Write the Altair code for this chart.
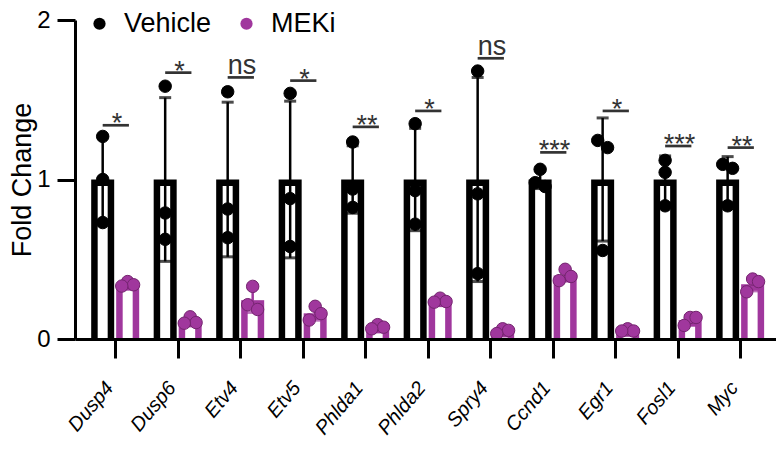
import altair as alt
import pandas as pd
import numpy as np

# ---------------- data ----------------
genes = ['Dusp4', 'Dusp6', 'Etv4', 'Etv5', 'Phlda1', 'Phlda2', 'Spry4', 'Ccnd1', 'Egr1', 'Fosl1', 'Myc']
vehicle_rep1 = [1.27, 1.585, 1.55, 1.54, 1.235, 1.35, 1.68, 1.064, 1.245, 1.12, 1.095]
vehicle_rep2 = [1.00, 0.79, 0.815, 0.88, 0.94, 0.93, 0.91, 0.98, 1.20, 1.045, 1.07]
vehicle_rep3 = [0.73, 0.625, 0.635, 0.58, 0.825, 0.72, 0.41, 0.956, 0.555, 0.835, 0.835]
meki_rep1 = [0.36, 0.139, 0.33, 0.205, 0.09, 0.256, 0.064, 0.437, 0.064, 0.135, 0.376]
meki_rep2 = [0.34, 0.103, 0.215, 0.159, 0.074, 0.235, 0.054, 0.392, 0.05, 0.135, 0.36]
meki_rep3 = [0.332, 0.099, 0.185, 0.119, 0.064, 0.231, 0.034, 0.366, 0.05, 0.085, 0.296]
sig_labels = ['*', '*', 'ns', '*', '**', '*', 'ns', '***', '*', '***', '**']
sig_heights = [1.34, 1.67, 1.64, 1.62, 1.33, 1.43, 1.76, 1.17, 1.43, 1.21, 1.20]
groups = ['Vehicle', 'MEKi']

# ---------------- styling / layout constants ----------------
FONT = 'Liberation Sans, Arial, Helvetica, sans-serif'
PURPLE = '#A0379D'
PURPLE_EDGE = '#74246F'
W, H = 701, 319
X_DOMAIN = [-0.563, 10.494]
Y_DOMAIN = [0, 2]
XPX = W / (X_DOMAIN[1] - X_DOMAIN[0])   # px per x unit
YPX = H / (Y_DOMAIN[1] - Y_DOMAIN[0])   # px per y unit
GROUP_SHIFT = {'Vehicle': -0.2, 'MEKi': 0.2}

# ---------------- build tables ----------------
reps = {'Vehicle': [vehicle_rep1, vehicle_rep2, vehicle_rep3],
        'MEKi': [meki_rep1, meki_rep2, meki_rep3]}

point_rows, summary_rows = [], []
for gi, g in enumerate(genes):
    for grp in groups:
        vals = [r[gi] for r in reps[grp]]
        center = gi + GROUP_SHIFT[grp]
        # simple beeswarm: cluster values closer than ~11 px
        order = sorted(vals, reverse=True)
        clusters, cur = [], [order[0]]
        for v in order[1:]:
            if (cur[-1] - v) * YPX < 11:
                cur.append(v)
            else:
                clusters.append(cur)
                cur = [v]
        clusters.append(cur)
        for cl in clusters:
            if len(cl) == 1:
                offs = [0]
            elif len(cl) == 2:
                offs = [-5, 5]
            else:
                offs = [0, 6, -6]
            for v, o in zip(cl, offs):
                point_rows.append({'gene': g, 'group': grp, 'value': v,
                                   'px': center + o / XPX})
        m = float(np.mean(vals))
        sd = float(np.std(vals, ddof=1))
        summary_rows.append({'gene': g, 'group': grp, 'pos': center,
                             'mean': m, 'lo': m - sd, 'hi': m + sd})

points = pd.DataFrame(point_rows)
summary = pd.DataFrame(summary_rows)
caps = pd.concat([summary.assign(cap=summary['hi']), summary.assign(cap=summary['lo'])])
sig = pd.DataFrame({'gene': genes, 'label': sig_labels, 'h': sig_heights,
                    'x1': [i + GROUP_SHIFT['Vehicle'] for i in range(len(genes))],
                    'x2': [i + GROUP_SHIFT['MEKi'] + 0.02 for i in range(len(genes))],
                    'xt': [i + 0.03 for i in range(len(genes))]})

# ---------------- scales / axes ----------------
xscale = alt.Scale(domain=X_DOMAIN, nice=False, zero=False)
yscale = alt.Scale(domain=Y_DOMAIN, nice=False, zero=True)
color_scale = alt.Scale(domain=groups, range=['#000000', PURPLE])
stroke_scale = alt.Scale(domain=groups, range=['#000000', PURPLE_EDGE])

label_expr = '[' + ','.join("'%s'" % g for g in genes) + '][datum.value]'
xaxis = alt.Axis(values=list(range(len(genes))), labelExpr=label_expr, title=None,
                 grid=False, domainColor='black', domainWidth=3, tickColor='black',
                 tickWidth=3, tickSize=19, labelAngle=-50, labelAlign='right',
                 labelBaseline='middle', labelFont=FONT, labelFontSize=20,
                 labelFontStyle='italic', labelColor='black', labelPadding=26,
                 labelOffset=-6, labelOverlap=False, labelBound=False, zindex=1)
yaxis = alt.Axis(tickCount=2, format='d', title='Fold Change', grid=False,
                 domainColor='black', domainWidth=3, tickColor='black', tickWidth=3,
                 tickSize=18, labelFont=FONT, labelFontSize=24, labelColor='black',
                 labelPadding=7, labelOverlap=False, titleFont=FONT, titleFontSize=27,
                 titleFontWeight='normal', titleColor='black', titleX=-45,
                 titleY=H / 2, titleAngle=270, titleAlign='center',
                 titleBaseline='alphabetic', zindex=1)
legend = alt.Legend(orient='none', legendX=11, legendY=-10,
                    direction='horizontal', title=None,
                    labelFont=FONT, labelFontSize=27,
                    labelColor='black', symbolType='circle',
                    symbolSize=150, symbolStrokeWidth=0,
                    symbolOpacity=1, labelOffset=11,
                    columnPadding=21, padding=0, labelLimit=0)

X = lambda f: alt.X(f, scale=xscale, axis=xaxis)
Y = lambda f: alt.Y(f, scale=yscale, axis=yaxis)
C = alt.Color('group:N', scale=color_scale, legend=legend)

bars_outer = alt.Chart(summary).mark_bar(size=23, orient='vertical').encode(
    x=X('pos:Q'), y=Y('mean:Q'), color=C)
bars_inner = alt.Chart(summary).mark_bar(size=10, orient='vertical', color='white',
                                         yOffset=6.5).encode(
    x=X('pos:Q'), y=Y('mean:Q'))

err_rule = alt.Chart(summary).mark_rule(strokeWidth=2.5).encode(
    x=X('pos:Q'), y=Y('lo:Q'), y2='hi:Q', color=C)
err_caps = alt.Chart(caps).mark_tick(orient='horizontal', size=12, thickness=3).encode(
    x=X('pos:Q'), y=Y('cap:Q'), color=C)

pts = alt.Chart(points).mark_circle(size=155, opacity=1, strokeWidth=1).encode(
    x=X('px:Q'), y=Y('value:Q'), color=C,
    stroke=alt.Stroke('group:N', scale=stroke_scale, legend=legend),
)

sig_line = alt.Chart(sig).mark_rule(strokeWidth=2.7, color='#333333').encode(
    x=X('x1:Q'), x2='x2:Q', y=Y('h:Q'))
sig_stars = alt.Chart(sig).transform_filter("datum.label != 'ns'").mark_text(
    font=FONT, fontSize=27, dy=7, baseline='alphabetic', align='center',
    color='#333333').encode(x=X('xt:Q'), y=Y('h:Q'), text='label:N')
sig_ns = alt.Chart(sig).transform_filter("datum.label == 'ns'").mark_text(
    font=FONT, fontSize=27, dy=-3.5, baseline='alphabetic', align='center',
    color='#333333').encode(x=X('xt:Q'), y=Y('h:Q'), text='label:N')

chart = alt.layer(bars_outer, bars_inner, err_rule, err_caps, pts,
                  sig_line, sig_stars, sig_ns).properties(
    width=W, height=H,
    autosize=alt.AutoSizeParams(type='none'),
    padding={'left': 67, 'top': 12, 'right': 0, 'bottom': 101},
).configure_view(stroke=None)

chart.save('out.html', embed_options={'renderer': 'svg', 'actions': False})
